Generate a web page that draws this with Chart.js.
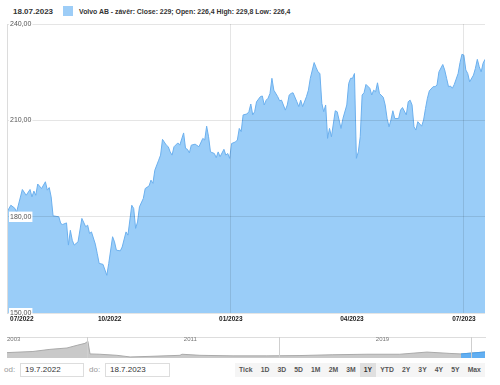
<!DOCTYPE html>
<html>
<head>
<meta charset="utf-8">
<script src="https://cdn.jsdelivr.net/npm/chart.js@4.4.0/dist/chart.umd.min.js"></script>
<style>
  body { margin: 0; width: 500px; height: 385px; position: relative; overflow: hidden; background: #fff;
         font-family: "Liberation Sans", Arial, sans-serif; }
  #head { position: absolute; top: 6px; left: 13px; height: 10px; display: flex; align-items: center;
          font-size: 8px; font-weight: bold; color: #333; white-space: nowrap; }
  #head .sw { width: 10px; height: 10px; background: #9dcdf7; margin: 0 6px 0 10px; }
  #head .txt { font-size: 6.9px; }
  #main { position: absolute; left: 0; top: 0; }
  #nav { position: absolute; left: 0; top: 331px; }
  .lbl { position: absolute; top: 365px; font-size: 8px; color: #999; }
  .box { position: absolute; top: 363px; height: 14px; border: 1px solid #ddd; box-sizing: border-box;
         font-size: 8px; color: #333; line-height: 12px; padding-left: 4px; }
  #btns { position: absolute; left: 235px; top: 363px; height: 14px; width: 250px; display: flex; }
  #btns span { flex: auto; text-align: center; font-size: 6.8px; font-weight: bold; color: #555;
               background: #f5f5f5; line-height: 14px; }
  #btns span.on { background: #e0e0e0; color: #333; }
</style>
</head>
<body>
<div id="head"><span>18.07.2023</span><span class="sw"></span><span class="txt">Volvo AB - závěr: Close: 229; Open: 226,4 High: 229,8 Low: 226,4</span></div>
<canvas id="main" width="500" height="330"></canvas>
<canvas id="nav" width="500" height="28"></canvas>
<span class="lbl" style="left:4px">od:</span>
<span class="box" style="left:20px;width:64px">19.7.2022</span>
<span class="lbl" style="left:89px">do:</span>
<span class="box" style="left:105px;width:65px">18.7.2023</span>
<div id="btns"></div>
<script>
// trading day index since 19.7.2022 and closing price (SEK)
const tradingDay = [0,2,4,5,8,10,12,13,14,15,16,18,20,21,22,23,24,27,28,29,31,32,33,34,35,37,39,41,42,43,44,46,47,48,50,52,53,55,56,57,59,60,62,63,65,66,67,68,69,71,72,74,75,76,77,79,80,81,83,84,85,86,87,89,90,92,93,94,95,96,98,100,102,103,104,105,106,108,109,110,111,113,114,115,116,117,119,120,121,122,123,125,126,127,128,129,130,132,133,134,135,136,137,138,139,141,142,143,145,146,147,148,149,151,152,153,154,156,157,158,160,161,162,163,164,165,166,167,168,169,171,172,174,175,177,178,179,180,181,182,183,184,185,186,187,189,190,191,192,193,194,196,197,198,199,200,201,202,204,205,206,208,209,210,211,212,213,214,216,217,218,219,220,222,223,224,225,227,228,229,230,231,232,233,235,236,237,238,239,240,241,243,244,245,246,247,248,249];
const closePrice = [181.5,183.6,182.7,181.5,188.5,186.7,188.5,186.2,188.0,186.7,190.2,188.8,190.9,188.3,189.1,186.2,180.3,180.0,177.9,177.6,178.1,171.2,175.8,172.7,171.2,172.2,179.5,176.9,177.4,174.8,175.3,171.5,168.6,165.5,165.2,161.8,165.5,173.8,172.2,169.6,169.4,170.6,175.3,174.3,183.6,182.6,176.4,178.4,183.1,185.7,188.8,189.6,191.4,190.4,194.5,197.6,199.2,204.1,202.3,201.8,200.2,199.2,201.8,203.0,202.3,206.1,201.3,201.0,199.9,202.3,202.6,201.8,204.4,203.9,208.2,204.9,200.2,199.7,198.4,200.2,198.7,201.0,199.2,199.7,198.2,202.8,203.3,203.9,207.5,206.5,211.7,212.0,212.7,215.1,211.7,212.7,215.8,217.4,217.6,214.8,216.3,216.9,218.4,223.1,219.4,217.4,216.1,216.3,213.2,214.8,217.9,218.4,218.6,215.8,214.3,216.3,214.3,217.4,219.4,223.1,228.0,226.5,225.1,224.6,215.3,212.7,214.8,204.4,207.5,204.9,213.0,212.7,207.5,210.6,214.8,221.5,223.1,223.1,224.6,198.2,200.2,204.9,217.9,218.6,221.2,220.0,217.9,219.4,218.9,221.7,218.4,217.2,214.8,210.6,208.0,210.1,213.0,210.6,210.6,213.2,214.0,211.7,215.8,216.3,214.8,208.0,207.0,209.6,208.2,210.1,213.7,216.9,219.2,220.5,220.5,221.0,225.1,227.4,225.7,223.1,220.5,220.7,220.0,221.2,224.6,228.0,230.6,230.3,225.7,224.6,222.0,224.1,226.2,229.0,226.7,225.1,227.8,229.0];
const tickDays = [7.7, 53.5, 116.6, 179.7, 238];
const tickLabels = ["07/2022", "10/2022", "01/2023", "04/2023", "07/2023"];
const gridLabels = ["01/2023", "07/2023"];
const priceTicks = [150, 180, 210, 240];

// navigator: whole history
const navYear = [2003.63,2004.71,2005.42,2006.13,2006.55,2006.88,2007.0,2007.09,2007.5,2008.21,2008.76,2009.59,2010.84,2010.92,2011.67,2013.05,2014.46,2015.84,2017.21,2018.63,2020.0,2021.13,2022.09,2022.55,2023.55];
const navPrice = [205,248,329,381,484,558,640,155,143,102,40,62,102,143,102,81,81,93,124,143,143,226,174,155,229];
const navLabelYears = [2003.63, 2011, 2019];
const navLabels = ["2003", "2011", "2019"];
const navGridYears = [2007, 2015, 2023];
const rangeStart = 2022.55;
const rangeButtons = ["Tick","1D","3D","5D","1M","2M","3M","1Y","YTD","2Y","3Y","4Y","5Y","Max"];

Chart.defaults.font.family = '"Liberation Sans", Arial, sans-serif';

new Chart(document.getElementById("main"), {
  type: "line",
  data: {
    datasets: [{
      label: "Volvo AB",
      data: tradingDay.map((d, i) => ({ x: d, y: closePrice[i] })),
      borderColor: "rgb(108, 176, 238)",
      backgroundColor: "rgb(154, 205, 248)",
      borderWidth: 1,
      pointRadius: 0,
      fill: "start",
      tension: 0,
    }],
  },
  options: {
    responsive: false,
    animation: false,
    devicePixelRatio: 1,
    layout: { padding: { left: 1, right: 15, top: 24, bottom: 5 } },
    plugins: { legend: { display: false }, tooltip: { enabled: false } },
    scales: {
      x: {
        type: "linear",
        min: 0,
        max: 249,
        afterBuildTicks: (axis) => { axis.ticks = tickDays.map((v) => ({ value: v })); },
        ticks: {
          z: 3,
          autoSkip: false,
          maxRotation: 0,
          padding: 2,
          color: "#222",
          font: { size: 6.5, weight: "bold" },
          callback: (v, i) => tickLabels[i],
        },
        grid: {
          z: 1,
          drawTicks: false,
          color: (ctx) => gridLabels.includes(tickLabels[ctx.index]) ? "rgba(0,0,0,0.1)" : "rgba(0,0,0,0)",
        },
        border: { display: false },
      },
      y: {
        min: 150,
        max: 240,
        afterBuildTicks: (axis) => { axis.ticks = priceTicks.map((v) => ({ value: v })); },
        ticks: {
          z: 2,
          mirror: true,
          padding: 3,
          color: "#555",
          font: { size: 7 },
          showLabelBackdrop: true,
          backdropColor: "#fff",
          backdropPadding: 1,
          callback: (v) => v.toFixed(2).replace(".", ","),
        },
        grid: { z: 1, drawTicks: false, color: "rgba(0,0,0,0.1)" },
        border: { display: true, z: 1, color: "#dcdcdc", width: 1 },
      },
    },
  },
});

const navPoints = navYear.map((y, i) => ({ x: y, y: navPrice[i] }));

new Chart(document.getElementById("nav"), {
  type: "line",
  data: {
    datasets: [{
      // selected range, drawn on top
      data: navPoints.filter((p) => p.x >= rangeStart),
      borderColor: "#4a9fe8",
      backgroundColor: "#62aff2",
      borderWidth: 1,
      pointRadius: 0,
      fill: "start",
    }, {
      data: navPoints,
      borderColor: "#aaa",
      backgroundColor: "#c9c9c9",
      borderWidth: 1,
      pointRadius: 0,
      fill: "start",
    }],
  },
  options: {
    responsive: false,
    animation: false,
    devicePixelRatio: 1,
    layout: { padding: { left: 7, right: 15, top: 0, bottom: 1 } },
    plugins: { legend: { display: false }, tooltip: { enabled: false } },
    scales: {
      x: {
        type: "linear",
        position: "top",
        min: 2003.63,
        max: 2023.55,
        afterBuildTicks: (axis) => { axis.ticks = navLabelYears.map((v) => ({ value: v })); },
        ticks: {
          z: 2,
          mirror: true,
          align: "start",
          autoSkip: false,
          maxRotation: 0,
          padding: -1,
          color: "#777",
          font: { size: 6 },
          callback: (v, i) => navLabels[i],
        },
        grid: { display: false },
        border: { display: true, color: "#ddd" },
      },
      x2: {
        type: "linear",
        position: "bottom",
        min: 2003.63,
        max: 2023.55,
        afterBuildTicks: (axis) => { axis.ticks = navGridYears.map((v) => ({ value: v })); },
        ticks: { display: false },
        grid: { z: 1, drawTicks: false, color: "#cfcfcf" },
        border: { display: false },
      },
      y: { display: false, min: 0, max: 800 },
    },
  },
});

const btns = document.getElementById("btns");
rangeButtons.forEach((b) => {
  const s = document.createElement("span");
  s.textContent = b;
  if (b === "1Y") s.className = "on";
  btns.appendChild(s);
});
</script>
</body>
</html>
